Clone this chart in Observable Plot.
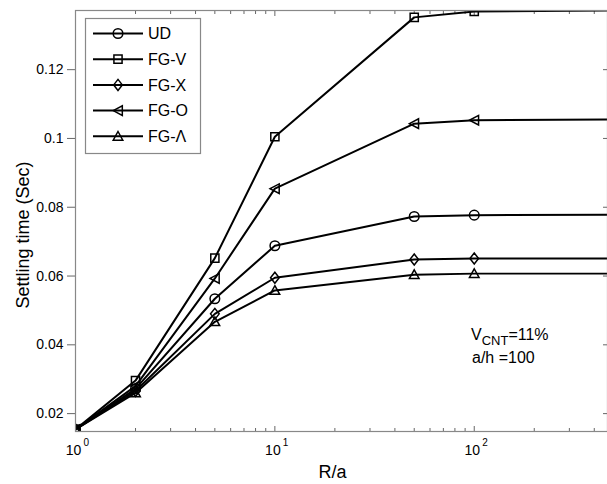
<!DOCTYPE html>
<html><head><meta charset="utf-8">
<script src="https://cdn.jsdelivr.net/npm/d3@7"></script>
<script src="https://cdn.jsdelivr.net/npm/@observablehq/plot@0.6"></script>
<style>body{margin:0;background:#fff} svg{display:block}</style>
</head><body><div id="chart"></div>
<script>
// ---- data ----
const ratio = [1, 2, 5, 10, 50, 100, 500];
const seriesNames = ["UD", "FG-V", "FG-X", "FG-O", "FG-Λ"];
const UD  = [0.0154, 0.0272, 0.0534, 0.0688, 0.0773, 0.0777, 0.0778];
const FGV = [0.0154, 0.0296, 0.0652, 0.1005, 0.1352, 0.1369, 0.1372];
const FGX = [0.0154, 0.0266, 0.0490, 0.0595, 0.0648, 0.0651, 0.0651];
const FGO = [0.0154, 0.0280, 0.0593, 0.0854, 0.1043, 0.1053, 0.1055];
const FGL = [0.0154, 0.0260, 0.0467, 0.0558, 0.0604, 0.0607, 0.0607];
const seriesValues = [UD, FGV, FGX, FGO, FGL];
const yTicks = [0.02, 0.04, 0.06, 0.08, 0.1, 0.12];
const yTickLabels = ["0.02", "0.04", "0.06", "0.08", "0.1", "0.12"];
const xMajor = [1, 10, 100];
const xMajorExp = ["0", "1", "2"];
const xMinor = [2, 3, 4, 5, 6, 7, 8, 9, 20, 30, 40, 50, 60, 70, 80, 90, 200, 300, 400];
const xLabel = "R/a";
const yLabel = "Settling time (Sec)";

// ---- symbols ----
const rad = s => Math.sqrt(s / Math.PI);
const symCircle = {draw(c, s) { const r = rad(s); c.moveTo(r, 0); c.arc(0, 0, r, 0, 2 * Math.PI); }};
const symSquare = {draw(c, s) { const r = rad(s) * 0.85; c.rect(-r, -r, 2 * r, 2 * r); }};
const symDiamond = {draw(c, s) { const r = rad(s); const w = r * 0.9, h = r * 1.15;
  c.moveTo(0, -h); c.lineTo(w, 0); c.lineTo(0, h); c.lineTo(-w, 0); c.closePath(); }};
const symTriLeft = {draw(c, s) { const r = rad(s);
  c.moveTo(-r, 0); c.lineTo(r * 0.9, -r); c.lineTo(r * 0.9, r); c.closePath(); }};
const symTriUp = {draw(c, s) { const r = rad(s);
  c.moveTo(0, -r); c.lineTo(r, r * 0.8); c.lineTo(-r, r * 0.8); c.closePath(); }};
const symbols = [symCircle, symSquare, symDiamond, symTriLeft, symTriUp];

const data = seriesNames.flatMap((name, i) => ratio.map((x, j) => ({series: name, x, y: seriesValues[i][j]})));

const font = "'Liberation Sans', Arial, Helvetica, sans-serif";
const tickStroke = "#666";

const plot = Plot.plot({
  width: 607, height: 484,
  marginLeft: 75, marginRight: 0, marginTop: 10, marginBottom: 53,
  style: {fontFamily: font, fontSize: "14px", background: "white", color: "black"},
  x: {type: "log", domain: [1, 466], axis: null},
  y: {domain: [0.0148, 0.1372], axis: null},
  marks: [
    Plot.axisY({anchor: "left", ticks: yTicks, tickFormat: d => yTickLabels[yTicks.indexOf(d)],
      tickSize: 8, tickPadding: 4, label: null, fontSize: 14, stroke: tickStroke}),
    Plot.axisY({anchor: "right", ticks: yTicks, tickSize: 5, dx: -5, tickFormat: () => "", label: null, stroke: tickStroke}),
    Plot.axisX({anchor: "bottom", ticks: xMajor, tickSize: 5, dy: -5, tickFormat: () => "", label: null, stroke: tickStroke}),
    Plot.axisX({anchor: "bottom", ticks: xMinor, tickSize: 3, dy: -3, tickFormat: () => "", label: null, stroke: tickStroke}),
    Plot.axisX({anchor: "top", ticks: xMajor, tickSize: 5, dy: 5, tickFormat: () => "", label: null, stroke: tickStroke}),
    Plot.axisX({anchor: "top", ticks: xMinor, tickSize: 3, dy: 3, tickFormat: () => "", label: null, stroke: tickStroke}),
    Plot.text(xMajor, {x: d => d, text: () => "10", frameAnchor: "bottom", lineAnchor: "middle", textAnchor: "middle", dy: 19, dx: -2, fontSize: 14}),
    Plot.text(xMajor, {x: d => d, text: (d, i) => xMajorExp[i], frameAnchor: "bottom", lineAnchor: "middle", textAnchor: "start", dy: 11, dx: 8, fontSize: 10}),
    Plot.text([xLabel], {text: d => d, frameAnchor: "bottom", lineAnchor: "middle", textAnchor: "middle", dy: 41, dx: -9, fontSize: 18}),
    Plot.text([yLabel], {text: d => d, frameAnchor: "left", lineAnchor: "middle", textAnchor: "middle", rotate: -90, dx: -52, dy: 14, fontSize: 18}),
    Plot.line(data, {x: "x", y: "y", z: "series", stroke: "black", strokeWidth: 2, clip: true}),
    ...seriesNames.map((name, i) => Plot.dot(data.filter(d => d.series === name),
      {x: "x", y: "y", symbol: symbols[i], r: 4.8, stroke: "black", strokeWidth: 1.5, fill: "none", clip: true})),
    Plot.frame({stroke: "#888", strokeWidth: 1.2})
  ]
});
document.getElementById("chart").appendChild(plot);

// ---- legend ----
const svg = d3.select(plot);
const lg = svg.append("g").attr("font-family", font).attr("font-size", 16).attr("text-anchor", "start");
lg.append("rect").attr("x", 85.5).attr("y", 18.5).attr("width", 115).attr("height", 135)
  .attr("fill", "white").attr("stroke", "#888").attr("stroke-width", 1.2);
seriesNames.forEach((name, i) => {
  const cy = 33.5 + i * 25.7;
  lg.append("line").attr("x1", 93).attr("x2", 143).attr("y1", cy).attr("y2", cy)
    .attr("stroke", "black").attr("stroke-width", 2);
  lg.append("path").attr("transform", `translate(118,${cy})`)
    .attr("d", d3.symbol(symbols[i], Math.PI * 4.8 * 4.8)())
    .attr("fill", "none").attr("stroke", "black").attr("stroke-width", 1.5);
  lg.append("text").attr("x", 148).attr("y", cy).attr("dy", "0.36em").text(name);
});

// ---- annotation ----
const ann = svg.append("g").attr("font-family", font).attr("font-size", 16).attr("text-anchor", "start");
const t1 = ann.append("text").attr("x", 471).attr("y", 340);
t1.append("tspan").text("V");
t1.append("tspan").attr("dy", 5).attr("font-size", 13).text("CNT");
t1.append("tspan").attr("dy", -5).text("=11%");
ann.append("text").attr("x", 472).attr("y", 363).text("a/h =100");
</script>
</body></html>
